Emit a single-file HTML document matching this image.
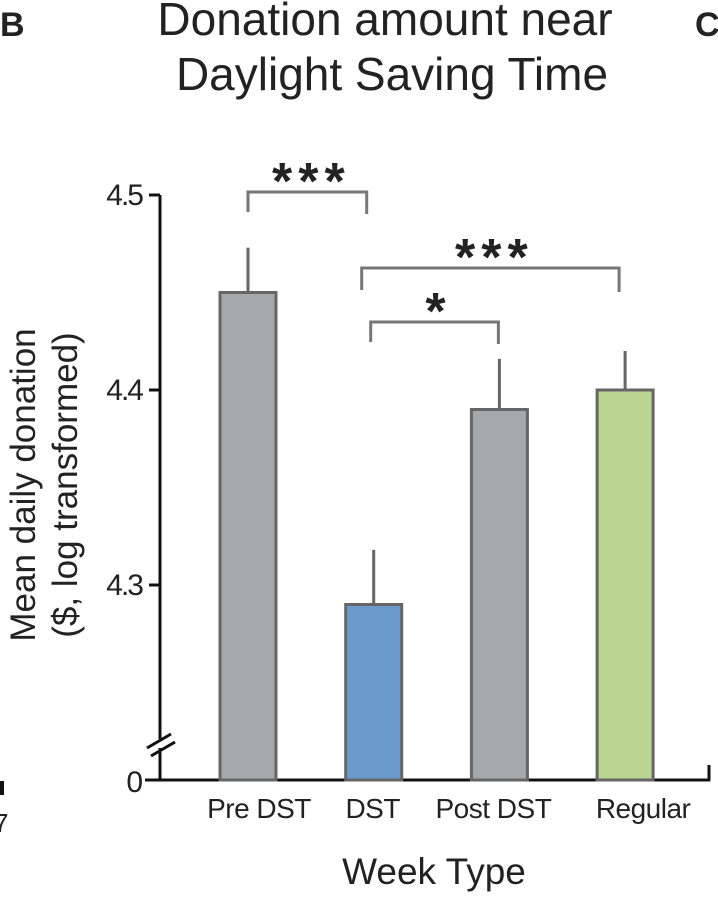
<!DOCTYPE html>
<html><head><meta charset="utf-8"><style>
body{margin:0;background:#fff;}
svg{display:block;font-family:"Liberation Sans",Arial,sans-serif;}
</style></head><body>
<svg id="chart" width="718" height="898" viewBox="0 0 718 898">
<text x="0" y="36" font-size="34" font-weight="bold" fill="#222">B</text>
<text x="695" y="36" font-size="34" font-weight="bold" fill="#222">C</text>
<text x="385" y="35" font-size="46" text-anchor="middle" fill="#222">Donation amount near</text>
<text x="392" y="90" font-size="46" text-anchor="middle" fill="#222">Daylight Saving Time</text>
<text transform="translate(35,485) rotate(-90)" font-size="35" text-anchor="middle" fill="#222">Mean daily donation</text>
<text transform="translate(77,485) rotate(-90)" font-size="35" text-anchor="middle" fill="#222">($, log transformed)</text>
<text x="434" y="884" font-size="37" text-anchor="middle" fill="#222">Week Type</text>
<rect x="0" y="781" width="4" height="14" fill="#111"/>
<text x="-6" y="832" font-size="26" fill="#222">7</text>
<g id="plot"></g>
</svg>
<script>
const categories = ["Pre DST","DST","Post DST","Regular"];
const values = [4.45, 4.29, 4.39, 4.40];
const errors = [0.023, 0.028, 0.026, 0.020];
const colors = ["#a7a8aa","#6b99cc","#a7a8aa","#bad592"];
const yTicks = [4.3, 4.4, 4.5];
const yTickLabels = ["4.3","4.4","4.5"];
const brackets = [[0,1,"***"],[1,3,"***"],[1,2,"*"]];

const NS="http://www.w3.org/2000/svg";
const g=document.getElementById('plot');
const y=v=>390-(v-4.4)*1950;
const xc=i=>248+i*125.7;
const labelOff=[11,-1,-6,18];
const bw=56, base=780;
function mk(t,a,txt){const e=document.createElementNS(NS,t);for(const k in a)e.setAttribute(k,a[k]);if(txt!==undefined)e.textContent=txt;g.appendChild(e);return e;}

let e=mk('line',{x1:160,y1:195,x2:160,y2:781,stroke:'#111','stroke-width':3});


e=mk('line',{x1:145,y1:780,x2:710,y2:780,stroke:'#111','stroke-width':3});


e=mk('line',{x1:709,y1:765,x2:709,y2:781,stroke:'#111','stroke-width':3});


e=mk('rect',{x:154,y:739,width:12,height:9,fill:'#fff'});


e=mk('path',{d:'M147,748 L171,734 M151,756 L175,742',stroke:'#111','stroke-width':3,fill:'none'});


e=mk('text',{x:141,y:792,'font-size':30,'text-anchor':'end',fill:'#222','letter-spacing':'-2'},'0');



yTicks.forEach((t,i)=>{
  let l=mk('line',{x1:149,y1:y(t),x2:160,y2:y(t),stroke:'#111','stroke-width':3});
  
  
  let tx=mk('text',{x:142,y:y(t)+10,'font-size':30,'text-anchor':'end',fill:'#222','letter-spacing':'-2'},yTickLabels[i]);
  
  
});

categories.forEach((c,i)=>{
  const cx=xc(i);
  let er=mk('line',{x1:cx,y1:y(values[i]+errors[i]),x2:cx,y2:y(values[i]),stroke:'#666','stroke-width':3});
  
  
  let b=mk('rect',{x:cx-bw/2,y:y(values[i]),width:bw,height:base-y(values[i]),fill:colors[i],stroke:'#666','stroke-width':3});
  
  
  let t=mk('text',{x:cx+labelOff[i],y:818,'font-size':28,'text-anchor':'middle',fill:'#222','letter-spacing':'-0.5'},c);
  
  
});

const bY=[192,268,322], legL=[212,290,342], offL=[0,-12,-3], offR=[-7,-6,-1];
brackets.forEach((br,k)=>{
  const x1=xc(br[0])+offL[k], x2=xc(br[1])+offR[k];
  const p=mk('path',{d:`M${x1},${legL[k]} V${bY[k]} H${x2} V${legL[k]+2}`,stroke:'#777','stroke-width':3,fill:'none'});
  
  
  const s=mk('text',{x:(x1+x2)/2+4,y:bY[k]+7,'font-size':52,'font-weight':'bold','text-anchor':'middle',fill:'#222','letter-spacing':'6'},br[2]);
  
  
});
</script>
</body></html>
